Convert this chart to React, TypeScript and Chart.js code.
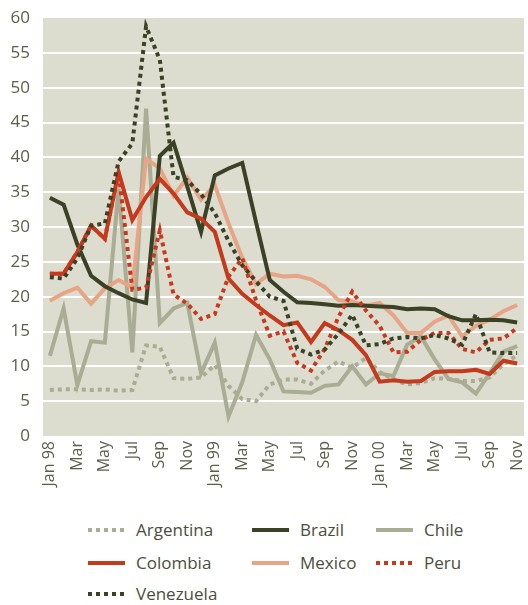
import React, { useEffect, useRef } from "react";
import { Chart, registerables } from "chart.js";

Chart.register(...registerables);

const months: string[] = [
  "Jan 98", "Feb", "Mar", "Apr", "May", "Jun", "Jul", "Aug", "Sep", "Oct", "Nov", "Dec",
  "Jan 99", "Feb", "Mar", "Apr", "May", "Jun", "Jul", "Aug", "Sep", "Oct", "Nov", "Dec",
  "Jan 00", "Feb", "Mar", "Apr", "May", "Jun", "Jul", "Aug", "Sep", "Oct", "Nov",
];

const argentina = [6.6, 6.7, 6.7, 6.6, 6.7, 6.5, 6.6, 13.0, 12.8, 8.3, 8.2, 8.4, 10.2, 7.2, 5.3, 5.0, 7.4, 8.1, 8.1, 7.5, 9.4, 10.7, 9.8, 11.2, 9.2, 8.1, 7.4, 7.6, 8.3, 8.2, 7.9, 7.9, 8.4, 10.3, 11.6];
const brazil = [34.2, 33.2, 27.5, 23.0, 21.5, 20.5, 19.6, 19.1, 40.2, 42.1, 35.8, 29.3, 37.4, 38.4, 39.2, 30.7, 22.4, 20.7, 19.2, 19.1, 18.9, 18.7, 18.8, 18.7, 18.6, 18.5, 18.2, 18.3, 18.2, 17.2, 16.6, 16.6, 16.7, 16.6, 16.3];
const chile = [11.5, 18.3, 7.3, 13.6, 13.4, 35.5, 12.0, 47.0, 16.2, 18.3, 19.1, 9.0, 13.4, 2.8, 7.7, 14.5, 11.0, 6.4, 6.3, 6.2, 7.2, 7.4, 10.0, 7.4, 9.0, 8.6, 13.1, 14.3, 11.0, 8.2, 7.7, 6.1, 9.0, 12.1, 12.9];
const colombia = [23.3, 23.3, 26.4, 30.2, 28.3, 37.9, 31.0, 34.3, 36.9, 34.8, 32.1, 31.2, 29.3, 22.6, 20.4, 18.8, 17.3, 15.9, 16.3, 13.5, 16.2, 15.2, 13.8, 11.6, 7.8, 8.0, 7.8, 7.9, 9.2, 9.3, 9.3, 9.5, 8.9, 10.8, 10.4];
const mexico = [19.4, 20.5, 21.3, 19.0, 21.2, 22.4, 21.3, 39.8, 38.4, 34.5, 37.1, 33.9, 36.0, 30.5, 25.6, 21.8, 23.3, 22.9, 23.0, 22.5, 21.4, 19.5, 19.3, 18.7, 19.1, 17.3, 14.8, 14.8, 16.4, 17.3, 14.3, 15.8, 16.7, 17.9, 18.8];
const peru = [23.3, 23.3, 26.4, 30.2, 28.3, 37.9, 21.0, 21.3, 29.5, 20.3, 19.0, 16.8, 17.5, 22.9, 25.5, 19.5, 14.4, 15.0, 10.5, 9.4, 12.5, 17.1, 20.7, 18.0, 15.8, 12.0, 12.1, 13.8, 14.8, 14.8, 12.5, 12.0, 13.8, 14.0, 15.5];
const venezuela = [22.8, 22.6, 25.5, 30.2, 30.5, 39.4, 42.0, 58.8, 54.0, 37.2, 36.7, 34.7, 32.0, 28.0, 24.5, 22.2, 20.0, 19.4, 12.5, 11.7, 12.4, 14.7, 17.4, 13.0, 13.2, 14.0, 14.2, 14.0, 14.5, 14.0, 13.1, 17.5, 12.0, 11.9, 11.9];

const yMin = 0;
const yMax = 60;
const yStep = 5;

const LIGHT = "#a9ad93";
const DARK = "#3a4125";
const RED = "#c33a1c";
const RED_DOT = "#c9381d";
const SALMON = "#e8a585";

type SeriesDef = { name: string; data: number[]; color: string; dotted: boolean; order: number };

const series: SeriesDef[] = [
  { name: "Argentina", data: argentina, color: LIGHT, dotted: true, order: 6 },
  { name: "Brazil", data: brazil, color: DARK, dotted: false, order: 4 },
  { name: "Chile", data: chile, color: LIGHT, dotted: false, order: 7 },
  { name: "Colombia", data: colombia, color: RED, dotted: false, order: 3 },
  { name: "Mexico", data: mexico, color: SALMON, dotted: false, order: 5 },
  { name: "Peru", data: peru, color: RED_DOT, dotted: true, order: 2 },
  { name: "Venezuela", data: venezuela, color: DARK, dotted: true, order: 1 },
];

const FONT = "'Open Sans', 'DejaVu Sans', sans-serif";
const TICK_COLOR = "#5b5e4a";

const bgPlugin = {
  id: "plotBg",
  beforeDraw(chart: any) {
    const { ctx, chartArea: a } = chart;
    ctx.save();
    ctx.fillStyle = "#dcdccf";
    ctx.fillRect(a.left, a.top, a.right - a.left, a.bottom - a.top);
    ctx.restore();
  },
};

export default function App() {
  const ref = useRef<HTMLCanvasElement | null>(null);

  useEffect(() => {
    if (!ref.current) return;
    const chart = new Chart(ref.current, {
      type: "line",
      data: {
        labels: months,
        datasets: series.map((s) => ({
          label: s.name,
          data: s.data,
          borderColor: s.color,
          backgroundColor: s.color,
          borderWidth: 4,
          borderDash: s.dotted ? [4, 4] : [],
          borderCapStyle: "butt",
          borderJoinStyle: "miter",
          pointRadius: 0,
          pointHoverRadius: 0,
          tension: 0,
          fill: false,
          order: s.order,
        })),
      },
      options: {
        responsive: false,
        animation: false,
        devicePixelRatio: 1,
        layout: { padding: { left: 0, right: 4, top: 18, bottom: 0 } },
        plugins: {
          legend: { display: false },
          tooltip: { enabled: false },
        },
        scales: {
          x: {
            type: "category",
            offset: true,
            grid: { display: false, drawTicks: false },
            border: { display: false },
            afterFit: (scale: any) => {
              scale.height = 64;
              scale.paddingLeft = 0;
              scale.paddingRight = 0;
            },
            ticks: {
              autoSkip: false,
              maxRotation: 90,
              minRotation: 90,
              padding: 5,
              color: TICK_COLOR,
              font: { family: FONT, size: 16 },
              callback: (_v: any, i: number) => (i % 2 === 0 ? months[i] : ""),
            },
          },
          y: {
            min: yMin,
            max: yMax,
            grid: {
              drawTicks: false,
              lineWidth: 2,
              color: (c: any) =>
                c.tick && (c.tick.value === yMin || c.tick.value === yMax) ? "rgba(0,0,0,0)" : "#ffffff",
            },
            border: { display: false },
            afterFit: (scale: any) => {
              scale.width = 43;
              scale.paddingTop = 0;
              scale.paddingBottom = 0;
            },
            ticks: {
              stepSize: yStep,
              padding: 13,
              color: TICK_COLOR,
              font: { family: FONT, size: 17 },
            },
          },
        },
      },
      plugins: [bgPlugin],
    } as any);
    return () => chart.destroy();
  }, []);

  const colX = [88, 252, 376];
  const rowY = [530, 563, 594];

  return (
    <div style={{ position: "absolute", left: 0, top: 0, width: 528, height: 605, background: "#ffffff", overflow: "hidden" }}>
      <canvas ref={ref} width={528} height={500} style={{ display: "block", width: 528, height: 500 }} />
      {series.map((s, i) => {
        const col = i % 3;
        const row = Math.floor(i / 3);
        const x = colX[col];
        const y = rowY[row];
        const swatchBg = s.dotted
          ? `repeating-linear-gradient(90deg, ${s.color} 0px, ${s.color} 4px, transparent 4px, transparent 8px)`
          : s.color;
        return (
          <div key={s.name} style={{ position: "absolute", left: x, top: y - 12, height: 24, display: "flex", alignItems: "center" }}>
            <div style={{ width: 37, height: 4, background: swatchBg }} />
            <span style={{ marginLeft: 11, fontFamily: FONT, fontSize: 17, color: "#4b4e3d", lineHeight: "24px", whiteSpace: "nowrap" }}>
              {s.name}
            </span>
          </div>
        );
      })}
    </div>
  );
}
